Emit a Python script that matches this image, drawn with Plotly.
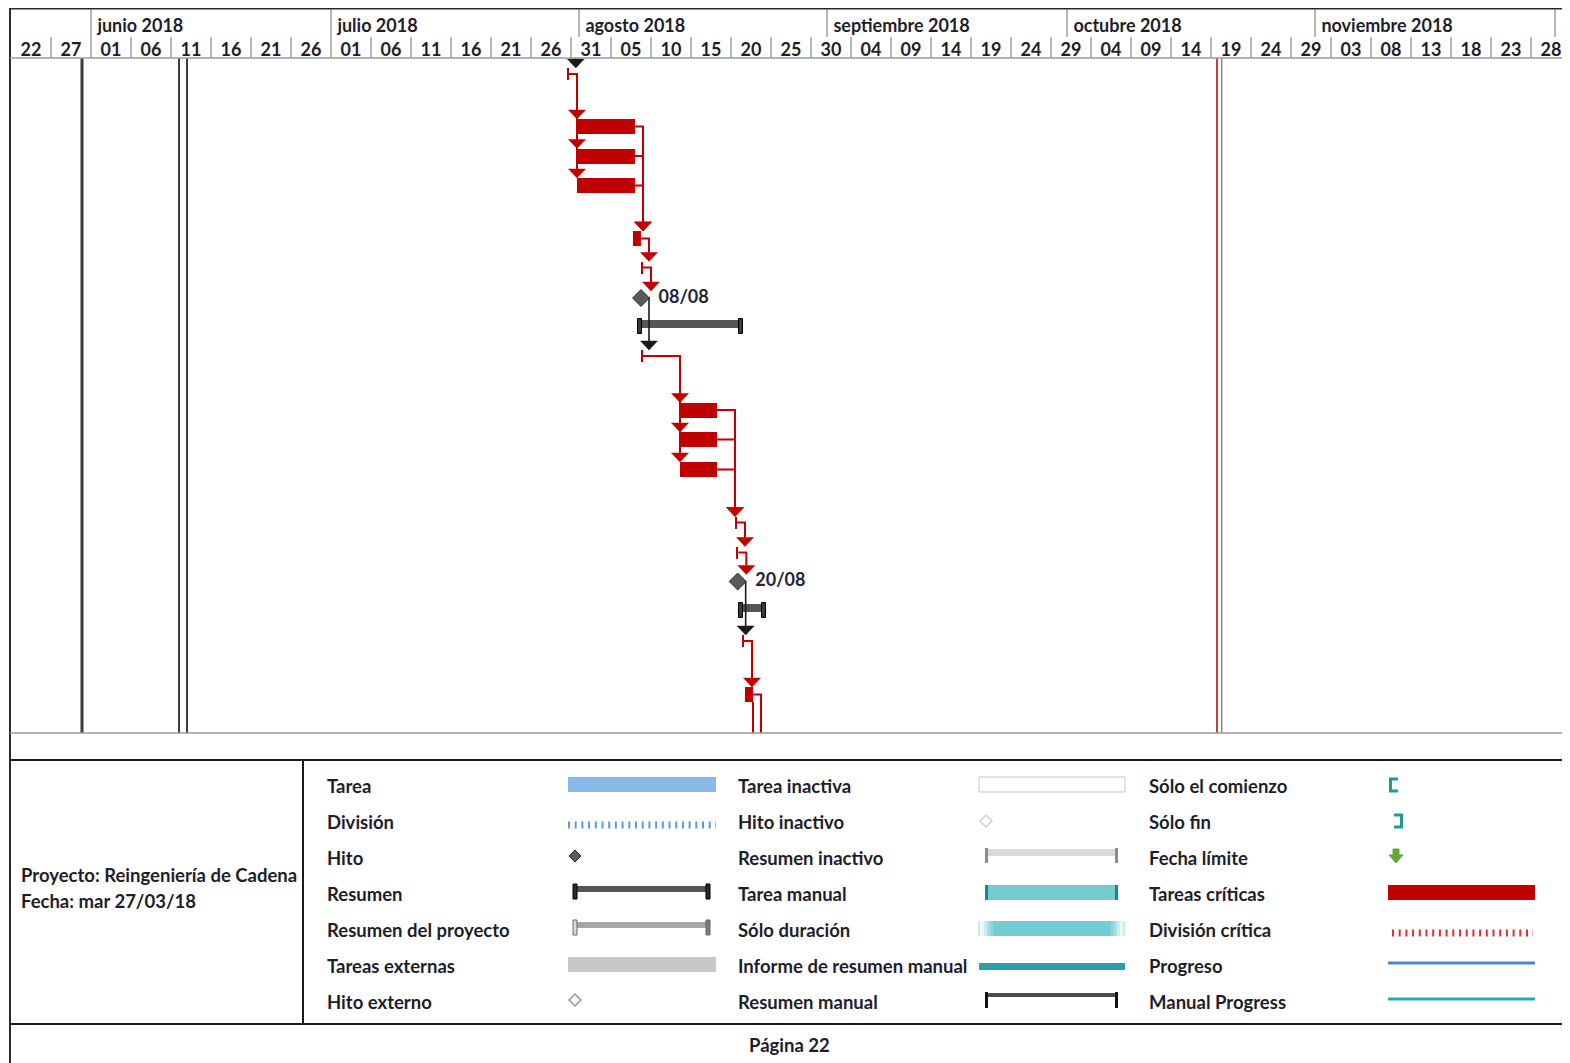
import plotly.graph_objects as go
import pandas as pd

# ---------------- timescale data ----------------
month_labels = ["junio 2018", "julio 2018", "agosto 2018", "septiembre 2018",
                "octubre 2018", "noviembre 2018", "diciembre 2018"]
month_starts = ["2018-06-01", "2018-07-01", "2018-08-01", "2018-09-01",
                "2018-10-01", "2018-11-01", "2018-12-01"]
tick_labels = ["22", "27", "01", "06", "11", "16", "21", "26", "01", "06", "11", "16", "21",
               "26", "31", "05", "10", "15", "20", "25", "30", "04", "09", "14", "19", "24",
               "29", "04", "09", "14", "19", "24", "29", "03", "08", "13", "18", "23", "28"]
tick_dates = ["2018-05-22", "2018-05-27", "2018-06-01", "2018-06-06", "2018-06-11", "2018-06-16",
              "2018-06-21", "2018-06-26", "2018-07-01", "2018-07-06", "2018-07-11", "2018-07-16",
              "2018-07-21", "2018-07-26", "2018-07-31", "2018-08-05", "2018-08-10", "2018-08-15",
              "2018-08-20", "2018-08-25", "2018-08-30", "2018-09-04", "2018-09-09", "2018-09-14",
              "2018-09-19", "2018-09-24", "2018-09-29", "2018-10-04", "2018-10-09", "2018-10-14",
              "2018-10-19", "2018-10-24", "2018-10-29", "2018-11-03", "2018-11-08", "2018-11-13",
              "2018-11-18", "2018-11-23", "2018-11-28"]
view_range = ["2018-05-22 00:00", "2018-12-02 12:00"]

# vertical date lines drawn across the chart
marker_dates = ["2018-05-30 21:00", "2018-06-12 00:00", "2018-06-13 00:00",
                "2018-10-19 18:00", "2018-10-20 08:00"]
marker_colors = ["#3c3c3c", "#3c3c3c", "#3c3c3c", "#C84040", "#8a8a8a"]
marker_widths = [3, 2, 2, 2, 1.5]

# ---------------- tasks ----------------
task_ids = ["P0", "A", "B", "C", "D", "E", "F", "G", "H", "I", "J", "K", "L",
            "M", "N", "O", "P", "Q", "R", "S1", "S2"]
task_kind = ["off", "stub", "crit", "crit", "crit", "crit", "stub", "mile", "summ", "stub",
             "crit", "crit", "crit", "stub", "stub", "mile", "summ", "stub", "crit", "off", "off"]
task_start = ["2018-07-30 14:24", "2018-07-30 12:00", "2018-07-31 17:00", "2018-07-31 17:00",
              "2018-07-31 17:00", "2018-08-07 18:00", "2018-08-08 18:00", "2018-08-08 18:00",
              "2018-08-08 15:00", "2018-08-08 18:00", "2018-08-13 15:00", "2018-08-13 15:00",
              "2018-08-13 15:00", "2018-08-20 12:00", "2018-08-20 16:00", "2018-08-20 20:00",
              "2018-08-21 06:00", "2018-08-21 10:00", "2018-08-21 18:00", "2018-08-22 18:00",
              "2018-08-22 18:00"]
task_end = ["2018-07-30 14:24", "2018-07-30 18:00", "2018-08-08 00:00", "2018-08-08 00:00",
            "2018-08-08 00:00", "2018-08-08 18:00", "2018-08-09 00:00", "2018-08-08 18:00",
            "2018-08-21 06:00", "2018-08-09 00:00", "2018-08-18 06:00", "2018-08-18 06:00",
            "2018-08-18 06:00", "2018-08-20 18:00", "2018-08-20 22:00", "2018-08-20 20:00",
            "2018-08-24 03:00", "2018-08-21 15:00", "2018-08-22 18:00", "2018-08-25 00:00",
            "2018-08-25 00:00"]
# vertical position of each row (chart rows, top = 0)
task_row = [-40, 16, 68.5, 98, 127.5, 180.5, 209.5, 240, 268.5, 298, 352, 381.5, 411.5,
            464.5, 494.5, 523.5, 552, 583, 636.5, 720, 720]

# ---------------- links ----------------
link_from = ["P0", "A", "A", "A", "B", "C", "D", "E", "F", "G", "I", "I", "I",
             "J", "K", "L", "M", "N", "O", "Q", "R", "R"]
link_to = ["A", "B", "C", "D", "E", "E", "E", "F", "G", "I", "J", "K", "L",
           "M", "M", "M", "N", "O", "Q", "R", "S1", "S2"]
link_critical = [False, True, True, True, True, True, True, True, True, False, True, True, True,
                 True, True, True, True, True, False, True, True, True]
link_route = ["std"] * 21 + ["drop"]

# ---------------- legend ----------------
legend_col1 = ["Tarea", "División", "Hito", "Resumen", "Resumen del proyecto",
               "Tareas externas", "Hito externo"]
legend_col2 = ["Tarea inactiva", "Hito inactivo", "Resumen inactivo", "Tarea manual",
               "Sólo duración", "Informe de resumen manual", "Resumen manual"]
legend_col3 = ["Sólo el comienzo", "Sólo fin", "Fecha límite", "Tareas críticas",
               "División crítica", "Progreso", "Manual Progress"]
project_text = ["Proyecto: Reingeniería de Cadena", "Fecha: mar 27/03/18"]
footer_text = "Página 22"

# ---------------- styling ----------------
W, H = 1570, 1063
OFF = 8            # page body margin of the browser
FONT = "Lato"
FS = 18.5
TXT = "#1e1e2a"
RED = "#C00000"
BLK = "#1a1a1a"
DAY = pd.Timedelta(days=1)
LINK_GAP = DAY * 1.0
ARW = DAY * 1.06   # arrow half width
ARH = 9            # arrow height
HALF = {"crit": 7.5, "stub": 6, "mile": 7, "summ": 7.5, "off": 0}
CH = 675           # chart body height (y units)


def fx(px):
    return (px - OFF) / W


def fy(py):
    return 1 - (py - OFF) / H


def fmt(t):
    return t.strftime("%Y-%m-%d %H:%M:%S")


tasks = {}
for tid, k, s, e, r in zip(task_ids, task_kind, task_start, task_end, task_row):
    tasks[tid] = dict(kind=k, start=pd.Timestamp(s), end=pd.Timestamp(e), row=r)

fig = go.Figure()

# ---- vertical marker lines
for d, c, w in zip(marker_dates, marker_colors, marker_widths):
    fig.add_trace(go.Scatter(x=[d, d], y=[0, CH], mode="lines",
                             line=dict(color=c, width=w), hoverinfo="skip"))

# ---- links
paths = {True: ([], []), False: ([], [])}
arrows = {True: ([], []), False: ([], [])}
for f, t, crit, route in zip(link_from, link_to, link_critical, link_route):
    p, s = tasks[f], tasks[t]
    tip = s["row"] - HALF[s["kind"]]
    if route == "drop":
        xl = p["end"]
        xs = [xl, xl]
        ys = [p["row"] + HALF[p["kind"]], tip - ARH]
    else:
        xl = max(s["start"], p["end"] + LINK_GAP)
        xs = [p["end"], xl, xl]
        ys = [p["row"], p["row"], tip - ARH]
    paths[crit][0].extend([fmt(x) for x in xs] + [None])
    paths[crit][1].extend(ys + [None])
    arrows[crit][0].extend([fmt(xl - ARW), fmt(xl + ARW), fmt(xl), fmt(xl - ARW), None])
    arrows[crit][1].extend([tip - ARH, tip - ARH, tip, tip - ARH, None])

for crit, col, w in [(True, RED, 2), (False, BLK, 1.6)]:
    fig.add_trace(go.Scatter(x=paths[crit][0], y=paths[crit][1], mode="lines",
                             line=dict(color=col, width=w), hoverinfo="skip"))
    fig.add_trace(go.Scatter(x=arrows[crit][0], y=arrows[crit][1], mode="lines",
                             fill="toself", fillcolor=col, line=dict(color=col, width=0.5),
                             hoverinfo="skip"))


# ---- task bars
def add_bars(ids, heights, color, offset=0.0, line=None):
    starts = [fmt(tasks[i]["start"]) for i in ids]
    durs = [(tasks[i]["end"] - tasks[i]["start"]).total_seconds() * 1000 for i in ids]
    fig.add_trace(go.Bar(orientation="h", base=starts, x=durs,
                         y=[tasks[i]["row"] + offset for i in ids], width=heights,
                         marker=dict(color=color, line=line or dict(width=0)),
                         hoverinfo="skip"))


crit_ids = [i for i in task_ids if tasks[i]["kind"] == "crit"]
stub_ids = [i for i in task_ids if tasks[i]["kind"] == "stub"]
summ_ids = [i for i in task_ids if tasks[i]["kind"] == "summ"]
mile_ids = [i for i in task_ids if tasks[i]["kind"] == "mile"]

add_bars(crit_ids, 15, RED)
add_bars(stub_ids, 12, RED)
add_bars(summ_ids, 8, "#555555", offset=-2.5)

# summary end caps
cap_base, cap_y = [], []
for i in summ_ids:
    for edge in (tasks[i]["start"], tasks[i]["end"]):
        cap_base.append(fmt(edge - DAY * 0.25))
        cap_y.append(tasks[i]["row"])
fig.add_trace(go.Bar(orientation="h", base=cap_base, x=[DAY.total_seconds() * 500] * len(cap_base),
                     y=cap_y, width=15, marker=dict(color="#3a3a3a", line=dict(color="#000", width=1)),
                     hoverinfo="skip"))

# milestones
fig.add_trace(go.Scatter(x=[fmt(tasks[i]["start"]) for i in mile_ids],
                         y=[tasks[i]["row"] for i in mile_ids], mode="markers",
                         marker=dict(symbol="diamond", size=13, color="#5a5a5a",
                                     line=dict(color="#2a2a2a", width=1)),
                         hoverinfo="skip"))
fig.add_trace(go.Scatter(x=[fmt(tasks[i]["start"] + DAY * 2.2) for i in mile_ids],
                         y=[tasks[i]["row"] for i in mile_ids], mode="text",
                         text=[tasks[i]["start"].strftime("%d/%m") for i in mile_ids],
                         textposition="middle right",
                         textfont=dict(family=FONT, size=18, color="#23233a", weight="bold"),
                         hoverinfo="skip"))

# ---- timescale header (x2 / y2)
sep_x, sep_y = [], []
for d in month_starts:
    sep_x += [d, d, None]
    sep_y += [0, 29, None]
for d in tick_dates[1:]:
    sep_x += [d, d, None]
    sep_y += [29, 50, None]
fig.add_trace(go.Scatter(x=sep_x, y=sep_y, mode="lines", line=dict(color="#a0a0a0", width=1.5),
                         xaxis="x2", yaxis="y2", hoverinfo="skip"))
fig.add_trace(go.Scatter(x=[fmt(pd.Timestamp(d) + DAY * 0.8) for d in month_starts],
                         y=[19] * len(month_starts), mode="text", text=month_labels,
                         textposition="middle right", cliponaxis=True,
                         textfont=dict(family=FONT, size=18, color=TXT, weight="bold"),
                         xaxis="x2", yaxis="y2", hoverinfo="skip"))
fig.add_trace(go.Scatter(x=[fmt(pd.Timestamp(d) + DAY * 2.5) for d in tick_dates],
                         y=[43] * len(tick_dates), mode="text", text=tick_labels,
                         textposition="middle center", cliponaxis=True,
                         textfont=dict(family=FONT, size=18, color=TXT, weight="bold"),
                         xaxis="x2", yaxis="y2", hoverinfo="skip"))

# ---- page layer (x3 / y3, reference pixel units) for frame and legend
fig.add_trace(go.Scatter(x=[OFF + 1], y=[OFF + 1], mode="markers", marker=dict(opacity=0),
                         xaxis="x3", yaxis="y3", hoverinfo="skip"))

shapes = []


def rect(x0, x1, y0, y1, fill, lc=None, lw=0):
    shapes.append(dict(type="rect", xref="x3", yref="y3", x0=x0, x1=x1, y0=y0, y1=y1,
                       fillcolor=fill, line=dict(color=lc or fill, width=lw)))


def seg(x0, y0, x1, y1, color, width, dash=None):
    d = dict(type="line", xref="x3", yref="y3", x0=x0, x1=x1, y0=y0, y1=y1,
             line=dict(color=color, width=width))
    if dash:
        d["line"]["dash"] = dash
    shapes.append(d)


def path(p, fill, lc, lw):
    shapes.append(dict(type="path", xref="x3", yref="y3", path=p, fillcolor=fill,
                       line=dict(color=lc, width=lw)))


# frame
seg(10, 8.5, 1568, 8.5, "#2b2b2b", 2)
seg(10, 8, 10, 1063, "#2b2b2b", 2)
seg(1567, 8, 1567, 1063, "#2b2b2b", 2)
seg(10, 58, 1567, 58, "#9a9a9a", 1.5)
seg(10, 733, 1567, 733, "#9a9a9a", 1.5)
seg(10, 760, 1567, 760, "#1a1a1a", 2)
seg(303, 760, 303, 1024, "#1a1a1a", 2)
seg(10, 1024, 1567, 1024, "#1a1a1a", 2)

ROWS = [785 + 36 * i for i in range(7)]

# column 1 samples
rect(568, 716, ROWS[0] - 8, ROWS[0] + 7, "#8ab8e8")
seg(568, ROWS[1] + 4, 716, ROWS[1] + 4, "#5b9bd5", 7, "2px,4.7px")
path(f"M569,{ROWS[2]-1} L575,{ROWS[2]-7} L581,{ROWS[2]-1} L575,{ROWS[2]+5} Z", "#5a5a5a", "#2a2a2a", 1)
rect(573, 709, ROWS[3] - 7, ROWS[3] - 1, "#555555")
rect(573, 577, ROWS[3] - 9, ROWS[3] + 6, "#2a2a2a", "#000", 1)
rect(706, 710, ROWS[3] - 9, ROWS[3] + 6, "#2a2a2a", "#000", 1)
rect(573, 709, ROWS[4] - 7, ROWS[4] - 1, "#a6a6a6")
rect(573, 577, ROWS[4] - 9, ROWS[4] + 6, "#d8d8d8", "#6b6b6b", 1)
rect(706, 710, ROWS[4] - 9, ROWS[4] + 6, "#7a7a7a", "#6b6b6b", 1)
rect(568, 716, ROWS[5] - 8, ROWS[5] + 7, "#c8c8c8")
path(f"M569,{ROWS[6]-1} L575,{ROWS[6]-7} L581,{ROWS[6]-1} L575,{ROWS[6]+5} Z", "#f4f4f4", "#9a9a9a", 1.5)

# column 2 samples
rect(979, 1125, ROWS[0] - 8, ROWS[0] + 7, "#ffffff", "#c4c4c4", 1)
path(f"M980,{ROWS[1]} L986,{ROWS[1]-6} L992,{ROWS[1]} L986,{ROWS[1]+6} Z", "#ffffff", "#d0d0d0", 1.5)
rect(985, 1118, ROWS[2] - 8, ROWS[2] - 1, "#dadada")
rect(985, 988, ROWS[2] - 9, ROWS[2] + 6, "#8c8c8c")
rect(1115, 1118, ROWS[2] - 9, ROWS[2] + 6, "#8c8c8c")
rect(985, 1118, ROWS[3] - 8, ROWS[3] + 7, "#74ccd3")
rect(985, 988, ROWS[3] - 8, ROWS[3] + 7, "#148a8f")
rect(1115, 1118, ROWS[3] - 8, ROWS[3] + 7, "#148a8f")
rect(993, 1111, ROWS[4] - 8, ROWS[4] + 7, "#74ccd3")
for k, c in enumerate(["#e8f7f8", "#c9ecee", "#a8e0e4", "#8ed6db"]):
    rect(981 + 3 * k, 984 + 3 * k, ROWS[4] - 8, ROWS[4] + 7, c)
    rect(1120 - 3 * k, 1123 - 3 * k, ROWS[4] - 8, ROWS[4] + 7, c)
seg(979, ROWS[4] - 8, 979, ROWS[4] + 7, "#8fd6db", 1)
seg(1124, ROWS[4] - 8, 1124, ROWS[4] + 7, "#8fd6db", 1)
rect(979, 1125, ROWS[5] - 2, ROWS[5] + 5, "#2aa0a6")
rect(985, 1118, ROWS[6] - 8, ROWS[6] - 4, "#4d4d4d")
rect(985, 988, ROWS[6] - 9, ROWS[6] + 7, "#111111")
rect(1115, 1118, ROWS[6] - 9, ROWS[6] + 7, "#111111")

# column 3 samples
path(f"M1398,{ROWS[0]-6} H1390.5 V{ROWS[0]+6} H1398", "rgba(0,0,0,0)", "#1b9aa0", 3)
path(f"M1394,{ROWS[1]-6} H1401.5 V{ROWS[1]+6} H1394", "rgba(0,0,0,0)", "#1b9aa0", 3)
y = ROWS[2]
path(f"M1393,{y-8} H1399 V{y-2} H1403 L1396,{y+6} L1389,{y-2} H1393 Z", "#62a63c", "#62a63c", 1)
rect(1388, 1535, ROWS[3] - 8, ROWS[3] + 7, RED)
seg(1392, ROWS[4] + 4, 1533, ROWS[4] + 4, "#e03030", 7, "2px,4.7px")
seg(1388, ROWS[5] - 2, 1535, ROWS[5] - 2, "#4a86d4", 3)
seg(1388, ROWS[6] - 2, 1535, ROWS[6] - 2, "#2aa7ae", 3)

annotations = []


def label(x, y, text, size=FS, anchor="left"):
    annotations.append(dict(xref="x3", yref="y3", x=x, y=y, text=text, showarrow=False,
                            xanchor=anchor, yanchor="middle",
                            font=dict(family=FONT, size=size, color=TXT, weight="bold")))


for col_x, labels in [(325, legend_col1), (736, legend_col2), (1147, legend_col3)]:
    for yy, txt in zip(ROWS, labels):
        label(col_x, yy + 1, txt)
label(19, 875, project_text[0])
label(19, 901, project_text[1])
label(789, 1045, footer_text, anchor="center")

hidden = dict(visible=False, showgrid=False, zeroline=False, fixedrange=True)
fig.update_layout(
    width=W, height=H, margin=dict(l=0, r=0, t=0, b=0),
    paper_bgcolor="white", plot_bgcolor="rgba(0,0,0,0)",
    showlegend=False, barmode="overlay", bargap=0,
    xaxis=dict(type="date", range=view_range, domain=[fx(11), fx(1567)], anchor="y", **hidden),
    yaxis=dict(range=[CH, 0], domain=[fy(733), fy(58)], anchor="x", **hidden),
    xaxis2=dict(type="date", matches="x", domain=[fx(11), fx(1567)], anchor="y2", **hidden),
    yaxis2=dict(range=[50, 0], domain=[fy(58), fy(8)], anchor="x2", **hidden),
    xaxis3=dict(range=[OFF, W + OFF], domain=[0, 1], anchor="y3", **hidden),
    yaxis3=dict(range=[H + OFF, OFF], domain=[0, 1], anchor="x3", **hidden),
    shapes=shapes, annotations=annotations,
)

fig.write_html(
    "out.html",
    post_script="document.documentElement.style.overflow='hidden';"
                "document.body.style.overflow='hidden';",
)
